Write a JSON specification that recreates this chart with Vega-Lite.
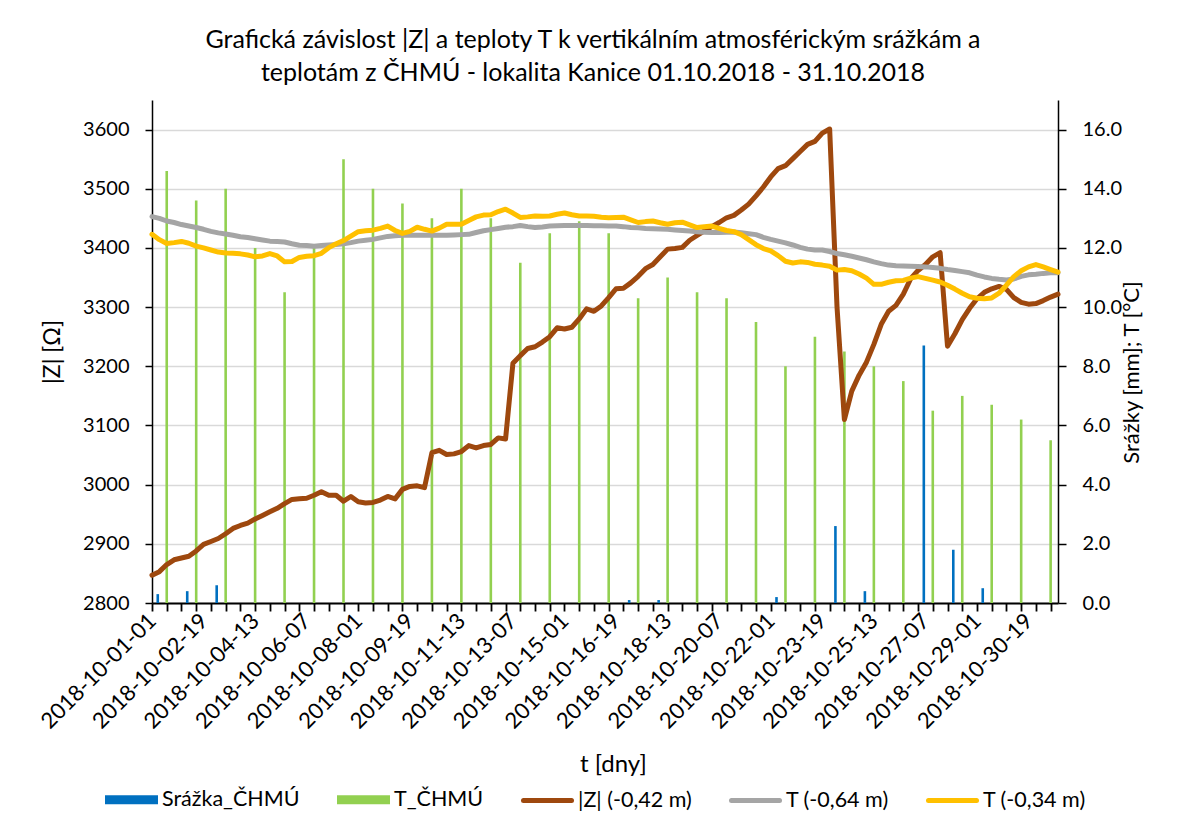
{
  "$schema": "https://vega.github.io/schema/vega-lite/v6.json",
  "width": 906,
  "height": 503,
  "autosize": {"type": "none"},
  "padding": {"left": 152, "top": 100, "right": 120, "bottom": 215},
  "background": "white",
  "config": {
    "font": "Lato",
    "view": {"stroke": null},
    "axis": {"labelFont": "Lato", "titleFont": "Lato", "labelColor": "#000", "titleColor": "#000", "titleFontWeight": "normal"}
  },
  "title": {
    "text": ["Grafická závislost |Z| a teploty T k vertikálním atmosférickým srážkám a", "teplotám z ČHMÚ - lokalita Kanice 01.10.2018 - 31.10.2018"],
    "font": "Lato", "fontSize": 25, "fontWeight": "normal", "color": "#000",
    "lineHeight": 33, "anchor": "middle", "offset": 14, "dx": -12
  },
  "data": {"values": [
    {"t":"2018-10-01-01","Z":2847,"T064":13.06,"T034":12.46},
    {"t":"2018-10-01-07","Z":2853,"T064":13.00,"T034":12.28,"srazka":0.3},
    {"t":"2018-10-01-13","Z":2865,"T064":12.91,"T034":12.15,"tchmu":14.6},
    {"t":"2018-10-01-19","Z":2873,"T064":12.86,"T034":12.18},
    {"t":"2018-10-02-01","Z":2876,"T064":12.79,"T034":12.22},
    {"t":"2018-10-02-07","Z":2879,"T064":12.74,"T034":12.16,"srazka":0.4},
    {"t":"2018-10-02-13","Z":2888,"T064":12.69,"T034":12.06,"tchmu":13.6},
    {"t":"2018-10-02-19","Z":2899,"T064":12.63,"T034":12.00},
    {"t":"2018-10-03-01","Z":2904,"T064":12.56,"T034":11.93},
    {"t":"2018-10-03-07","Z":2909,"T064":12.51,"T034":11.86,"srazka":0.6},
    {"t":"2018-10-03-13","Z":2917,"T064":12.47,"T034":11.83,"tchmu":14.0},
    {"t":"2018-10-03-19","Z":2926,"T064":12.43,"T034":11.82},
    {"t":"2018-10-04-01","Z":2931,"T064":12.38,"T034":11.80},
    {"t":"2018-10-04-07","Z":2935,"T064":12.35,"T034":11.76,"srazka":0},
    {"t":"2018-10-04-13","Z":2942,"T064":12.31,"T034":11.70,"tchmu":12.0},
    {"t":"2018-10-04-19","Z":2948,"T064":12.27,"T034":11.73},
    {"t":"2018-10-05-01","Z":2954,"T064":12.23,"T034":11.81},
    {"t":"2018-10-05-07","Z":2960,"T064":12.22,"T034":11.73,"srazka":0},
    {"t":"2018-10-05-13","Z":2968,"T064":12.20,"T034":11.53,"tchmu":10.5},
    {"t":"2018-10-05-19","Z":2975,"T064":12.14,"T034":11.54},
    {"t":"2018-10-06-01","Z":2976,"T064":12.09,"T034":11.68},
    {"t":"2018-10-06-07","Z":2977,"T064":12.08,"T034":11.72,"srazka":0},
    {"t":"2018-10-06-13","Z":2982,"T064":12.06,"T034":11.74,"tchmu":12.0},
    {"t":"2018-10-06-19","Z":2988,"T064":12.08,"T034":11.82},
    {"t":"2018-10-07-01","Z":2982,"T064":12.10,"T034":12.01},
    {"t":"2018-10-07-07","Z":2982,"T064":12.12,"T034":12.14,"srazka":0},
    {"t":"2018-10-07-13","Z":2972,"T064":12.14,"T034":12.25,"tchmu":15.0},
    {"t":"2018-10-07-19","Z":2980,"T064":12.18,"T034":12.40},
    {"t":"2018-10-08-01","Z":2971,"T064":12.23,"T034":12.55},
    {"t":"2018-10-08-07","Z":2969,"T064":12.26,"T034":12.58,"srazka":0},
    {"t":"2018-10-08-13","Z":2970,"T064":12.29,"T034":12.60,"tchmu":14.0},
    {"t":"2018-10-08-19","Z":2974,"T064":12.34,"T034":12.66},
    {"t":"2018-10-09-01","Z":2980,"T064":12.39,"T034":12.74},
    {"t":"2018-10-09-07","Z":2976,"T064":12.41,"T034":12.59,"srazka":0},
    {"t":"2018-10-09-13","Z":2992,"T064":12.43,"T034":12.49,"tchmu":13.5},
    {"t":"2018-10-09-19","Z":2997,"T064":12.43,"T034":12.56},
    {"t":"2018-10-10-01","Z":2998,"T064":12.43,"T034":12.70},
    {"t":"2018-10-10-07","Z":2995,"T064":12.43,"T034":12.63,"srazka":0},
    {"t":"2018-10-10-13","Z":3054,"T064":12.43,"T034":12.57,"tchmu":13.0},
    {"t":"2018-10-10-19","Z":3058,"T064":12.43,"T034":12.67},
    {"t":"2018-10-11-01","Z":3051,"T064":12.43,"T034":12.80},
    {"t":"2018-10-11-07","Z":3052,"T064":12.44,"T034":12.80,"srazka":0},
    {"t":"2018-10-11-13","Z":3056,"T064":12.45,"T034":12.80,"tchmu":14.0},
    {"t":"2018-10-11-19","Z":3066,"T064":12.46,"T034":12.93},
    {"t":"2018-10-12-01","Z":3062,"T064":12.52,"T034":13.05},
    {"t":"2018-10-12-07","Z":3066,"T064":12.58,"T034":13.11,"srazka":0},
    {"t":"2018-10-12-13","Z":3068,"T064":12.62,"T034":13.12,"tchmu":13.0},
    {"t":"2018-10-12-19","Z":3079,"T064":12.66,"T034":13.23},
    {"t":"2018-10-13-01","Z":3077,"T064":12.70,"T034":13.31},
    {"t":"2018-10-13-07","Z":3205,"T064":12.72,"T034":13.18,"srazka":0},
    {"t":"2018-10-13-13","Z":3218,"T064":12.76,"T034":13.03,"tchmu":11.5},
    {"t":"2018-10-13-19","Z":3230,"T064":12.72,"T034":13.05},
    {"t":"2018-10-14-01","Z":3233,"T064":12.69,"T034":13.08},
    {"t":"2018-10-14-07","Z":3241,"T064":12.71,"T034":13.07,"srazka":0},
    {"t":"2018-10-14-13","Z":3250,"T064":12.74,"T034":13.08,"tchmu":12.5},
    {"t":"2018-10-14-19","Z":3265,"T064":12.75,"T034":13.14},
    {"t":"2018-10-15-01","Z":3263,"T064":12.76,"T034":13.18},
    {"t":"2018-10-15-07","Z":3266,"T064":12.76,"T034":13.12,"srazka":0},
    {"t":"2018-10-15-13","Z":3280,"T064":12.76,"T034":13.08,"tchmu":12.9},
    {"t":"2018-10-15-19","Z":3297,"T064":12.76,"T034":13.08},
    {"t":"2018-10-16-01","Z":3293,"T064":12.75,"T034":13.07},
    {"t":"2018-10-16-07","Z":3302,"T064":12.75,"T034":13.04,"srazka":0},
    {"t":"2018-10-16-13","Z":3316,"T064":12.74,"T034":13.02,"tchmu":12.5},
    {"t":"2018-10-16-19","Z":3331,"T064":12.74,"T034":13.03},
    {"t":"2018-10-17-01","Z":3332,"T064":12.72,"T034":13.04},
    {"t":"2018-10-17-07","Z":3341,"T064":12.69,"T034":12.95,"srazka":0.1},
    {"t":"2018-10-17-13","Z":3352,"T064":12.68,"T034":12.86,"tchmu":10.3},
    {"t":"2018-10-17-19","Z":3365,"T064":12.66,"T034":12.89},
    {"t":"2018-10-18-01","Z":3372,"T064":12.65,"T034":12.91},
    {"t":"2018-10-18-07","Z":3385,"T064":12.64,"T034":12.85,"srazka":0.1},
    {"t":"2018-10-18-13","Z":3398,"T064":12.63,"T034":12.80,"tchmu":11.0},
    {"t":"2018-10-18-19","Z":3399,"T064":12.61,"T034":12.85},
    {"t":"2018-10-19-01","Z":3401,"T064":12.59,"T034":12.87},
    {"t":"2018-10-19-07","Z":3413,"T064":12.57,"T034":12.78,"srazka":0},
    {"t":"2018-10-19-13","Z":3421,"T064":12.55,"T034":12.69,"tchmu":10.5},
    {"t":"2018-10-19-19","Z":3429,"T064":12.53,"T034":12.72},
    {"t":"2018-10-20-01","Z":3436,"T064":12.52,"T034":12.74},
    {"t":"2018-10-20-07","Z":3443,"T064":12.52,"T034":12.66,"srazka":0},
    {"t":"2018-10-20-13","Z":3451,"T064":12.53,"T034":12.59,"tchmu":10.3},
    {"t":"2018-10-20-19","Z":3455,"T064":12.54,"T034":12.55},
    {"t":"2018-10-21-01","Z":3464,"T064":12.51,"T034":12.45},
    {"t":"2018-10-21-07","Z":3474,"T064":12.48,"T034":12.28,"srazka":0},
    {"t":"2018-10-21-13","Z":3488,"T064":12.45,"T034":12.11,"tchmu":9.5},
    {"t":"2018-10-21-19","Z":3503,"T064":12.36,"T034":11.98},
    {"t":"2018-10-22-01","Z":3520,"T064":12.29,"T034":11.90},
    {"t":"2018-10-22-07","Z":3534,"T064":12.23,"T034":11.74,"srazka":0.2},
    {"t":"2018-10-22-13","Z":3539,"T064":12.17,"T034":11.55,"tchmu":8.0},
    {"t":"2018-10-22-19","Z":3551,"T064":12.10,"T034":11.49},
    {"t":"2018-10-23-01","Z":3563,"T064":12.02,"T034":11.53},
    {"t":"2018-10-23-07","Z":3575,"T064":11.96,"T034":11.51,"srazka":0},
    {"t":"2018-10-23-13","Z":3580,"T064":11.93,"T034":11.45,"tchmu":9.0},
    {"t":"2018-10-23-19","Z":3594,"T064":11.93,"T034":11.42},
    {"t":"2018-10-24-01","Z":3601,"T064":11.88,"T034":11.38},
    {"t":"2018-10-24-07","Z":3300,"T064":11.81,"T034":11.25,"srazka":2.6},
    {"t":"2018-10-24-13","Z":3110,"T064":11.77,"T034":11.27,"tchmu":8.5},
    {"t":"2018-10-24-19","Z":3158,"T064":11.72,"T034":11.23},
    {"t":"2018-10-25-01","Z":3185,"T064":11.66,"T034":11.12},
    {"t":"2018-10-25-07","Z":3207,"T064":11.60,"T034":10.98,"srazka":0.4},
    {"t":"2018-10-25-13","Z":3237,"T064":11.53,"T034":10.77,"tchmu":8.0},
    {"t":"2018-10-25-19","Z":3271,"T064":11.47,"T034":10.77},
    {"t":"2018-10-26-01","Z":3293,"T064":11.42,"T034":10.84},
    {"t":"2018-10-26-07","Z":3303,"T064":11.40,"T034":10.89,"srazka":0},
    {"t":"2018-10-26-13","Z":3322,"T064":11.39,"T034":10.90,"tchmu":7.5},
    {"t":"2018-10-26-19","Z":3348,"T064":11.38,"T034":10.98},
    {"t":"2018-10-27-01","Z":3362,"T064":11.37,"T034":11.03},
    {"t":"2018-10-27-07","Z":3372,"T064":11.36,"T034":10.97,"srazka":8.7},
    {"t":"2018-10-27-13","Z":3385,"T064":11.34,"T034":10.91,"tchmu":6.5},
    {"t":"2018-10-27-19","Z":3392,"T064":11.31,"T034":10.85},
    {"t":"2018-10-28-01","Z":3234,"T064":11.27,"T034":10.74},
    {"t":"2018-10-28-07","Z":3255,"T064":11.24,"T034":10.61,"srazka":1.8},
    {"t":"2018-10-28-13","Z":3279,"T064":11.20,"T034":10.47,"tchmu":7.0},
    {"t":"2018-10-28-19","Z":3298,"T064":11.16,"T034":10.35},
    {"t":"2018-10-29-01","Z":3314,"T064":11.08,"T034":10.30},
    {"t":"2018-10-29-07","Z":3325,"T064":11.02,"T034":10.28,"srazka":0.5},
    {"t":"2018-10-29-13","Z":3331,"T064":10.97,"T034":10.31,"tchmu":6.7},
    {"t":"2018-10-29-19","Z":3335,"T064":10.94,"T034":10.47},
    {"t":"2018-10-30-01","Z":3330,"T064":10.92,"T034":10.74},
    {"t":"2018-10-30-07","Z":3316,"T064":10.95,"T034":11.03,"srazka":0},
    {"t":"2018-10-30-13","Z":3308,"T064":11.04,"T034":11.23,"tchmu":6.2},
    {"t":"2018-10-30-19","Z":3305,"T064":11.09,"T034":11.36},
    {"t":"2018-10-31-01","Z":3306,"T064":11.11,"T034":11.44},
    {"t":"2018-10-31-07","Z":3311,"T064":11.14,"T034":11.36,"srazka":0},
    {"t":"2018-10-31-13","Z":3317,"T064":11.16,"T034":11.27,"tchmu":5.5},
    {"t":"2018-10-31-19","Z":3322,"T064":11.16,"T034":11.18}
  ]},
  "layer": [
    {
      "transform": [{"filter": "datum.srazka != null"}],
      "mark": {"type": "bar", "width": 2.6, "xOffset": -1.6},
      "encoding": {
        "x": {"field": "t", "type": "ordinal", "scale": {"type": "point", "padding": 0},
          "axis": {
            "title": "t [dny]", "titleFontSize": 24, "titlePadding": 20, "titleX": 461,
            "labelAngle": -45, "labelAlign": "right", "labelBaseline": "middle",
            "labelFontSize": 22, "labelPadding": 6, "labelOverlap": false,
            "labelExpr": "((toNumber(slice(datum.value,8,10))-1)*4 + (toNumber(slice(datum.value,11,13))-1)/6) % 7 == 0 ? datum.value : ''",
            "tickSize": 8, "tickWidth": 1.8, "tickColor": "#000",
            "tickOpacity": {"condition": {"test": "slice(datum.value,11,13) == '01' || slice(datum.value,11,13) == '13'", "value": 1}, "value": 0},
            "domainColor": "#000", "domainWidth": 1.8, "grid": false
          }},
        "y": {"field": "srazka", "type": "quantitative", "scale": {"domain": [0, 17], "nice": false},
          "axis": {"orient": "right", "values": [0, 2, 4, 6, 8, 10, 12, 14, 16], "format": ".1f",
            "title": "Srážky [mm]; T [°C]", "titleAngle": -90, "titleFontSize": 22, "titlePadding": 22, "titleY": 272,
            "grid": false, "tickSize": 8, "tickWidth": 1.5, "tickColor": "#000",
            "domainColor": "#000", "domainWidth": 1.5, "labelPadding": 16, "labelFontSize": 20}},
        "color": {"datum": "Srážka_ČHMÚ",
          "scale": {"domain": ["Srážka_ČHMÚ", "T_ČHMÚ", "|Z| (-0,42 m)", "T (-0,64 m)", "T (-0,34 m)"],
                    "range": ["#0070C0", "#92D050", "#9E480E", "#A5A5A5", "#FFC000"]},
          "legend": {
            "orient": "none", "legendX": -47, "legendY": 673, "direction": "horizontal", "title": null,
            "labelFont": "Lato", "labelFontSize": 21.5, "labelColor": "#000",
            "symbolSize": 2304, "symbolStrokeWidth": 5, "labelOffset": 4, "columnPadding": 29,
            "encode": {"symbols": {"update": {
              "shape": {"signal": "(datum.value == 'Srážka_ČHMÚ' || datum.value == 'T_ČHMÚ') ? 'M-1,-0.083H1V0.083H-1Z' : 'M-1,0H1'"},
              "fill": {"signal": "datum.value == 'Srážka_ČHMÚ' ? '#0070C0' : datum.value == 'T_ČHMÚ' ? '#92D050' : 'transparent'"},
              "stroke": {"signal": "datum.value == 'Srážka_ČHMÚ' ? '#0070C0' : datum.value == 'T_ČHMÚ' ? '#92D050' : datum.value == '|Z| (-0,42 m)' ? '#9E480E' : datum.value == 'T (-0,64 m)' ? '#A5A5A5' : '#FFC000'"},
              "strokeCap": {"signal": "(datum.value == 'Srážka_ČHMÚ' || datum.value == 'T_ČHMÚ') ? 'butt' : 'round'"},
              "opacity": {"value": 1}
            }}}
          }}
      }
    },
    {
      "transform": [{"filter": "datum.tchmu != null"}],
      "mark": {"type": "bar", "width": 2.6},
      "encoding": {
        "x": {"field": "t", "type": "ordinal"},
        "y": {"field": "tchmu", "type": "quantitative", "scale": {"domain": [0, 17], "nice": false}, "axis": null},
        "color": {"datum": "T_ČHMÚ"}
      }
    },
    {
      "mark": {"type": "line", "strokeWidth": 5, "strokeJoin": "round", "strokeCap": "round"},
      "encoding": {
        "x": {"field": "t", "type": "ordinal"},
        "y": {"field": "Z", "type": "quantitative", "scale": {"domain": [2800, 3650], "nice": false, "zero": false},
          "axis": {"orient": "left", "values": [2800, 2900, 3000, 3100, 3200, 3300, 3400, 3500, 3600], "format": "d",
            "title": "|Z| [Ω]", "titleFontSize": 23, "titlePadding": 18,
            "grid": true, "gridColor": "#d9d9d9", "gridWidth": 1.5,
            "tickSize": 7, "tickWidth": 1.5, "tickColor": "#000",
            "domainColor": "#000", "domainWidth": 1.5, "labelPadding": 16, "labelFontSize": 20}},
        "color": {"datum": "|Z| (-0,42 m)"}
      }
    },
    {
      "mark": {"type": "line", "strokeWidth": 5, "strokeJoin": "round", "strokeCap": "round"},
      "encoding": {
        "x": {"field": "t", "type": "ordinal"},
        "y": {"field": "T064", "type": "quantitative", "scale": {"domain": [0, 17], "nice": false}, "axis": null},
        "color": {"datum": "T (-0,64 m)"}
      }
    },
    {
      "mark": {"type": "line", "strokeWidth": 5, "strokeJoin": "round", "strokeCap": "round"},
      "encoding": {
        "x": {"field": "t", "type": "ordinal"},
        "y": {"field": "T034", "type": "quantitative", "scale": {"domain": [0, 17], "nice": false}, "axis": null},
        "color": {"datum": "T (-0,34 m)"}
      }
    }
  ],
  "resolve": {"scale": {"y": "independent"}, "axis": {"y": "independent"}}
}
